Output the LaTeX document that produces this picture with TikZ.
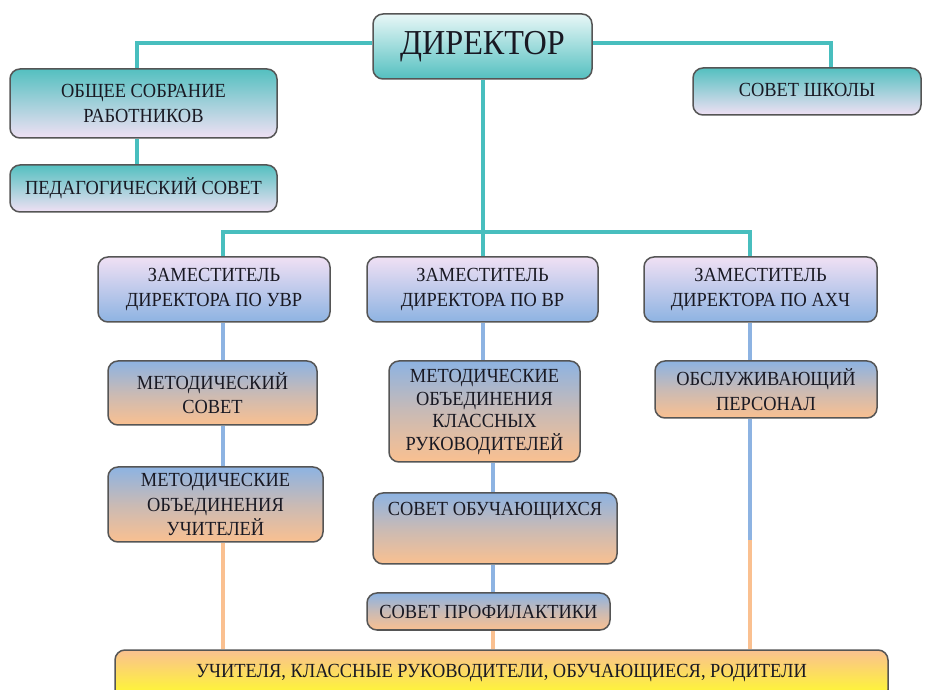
\documentclass[tikz,border=0pt]{standalone}
\usepackage{fontspec}
\setmainfont{Liberation Serif}[FakeStretch=0.92]
\definecolor{tealline}{RGB}{72,190,190}
\definecolor{tealtop}{RGB}{84,192,192}
\definecolor{dirtop}{RGB}{232,247,247}
\definecolor{lavender}{RGB}{240,224,244}
\definecolor{blueish}{RGB}{141,179,226}
\definecolor{orangeish}{RGB}{250,192,144}
\definecolor{yellowish}{RGB}{255,255,40}
\definecolor{boxgray}{RGB}{85,85,85}
\definecolor{textdark}{RGB}{25,25,35}

\tikzset{
  box/.style={draw=boxgray, line width=0.75pt, rounded corners=5pt, align=center,
    inner sep=0pt, text=textdark, font=\fontsize{10}{12.3}\selectfont},
  dirbox/.style={box, top color=dirtop, bottom color=tealtop, font=\fontsize{17.5}{19}\selectfont},
  councilbox/.style={box, top color=tealtop, bottom color=lavender},
  deputybox/.style={box, top color=lavender, bottom color=blueish},
  unitbox/.style={box, top color=blueish, bottom color=orangeish, middle color=blueish!45!orangeish},
  basebox/.style={box, top color=orangeish, bottom color=yellowish},
  tealconn/.style={draw=tealline, line width=2pt},
  blueconn/.style={draw=blueish, line width=2pt},
  orangeconn/.style={draw=orangeish, line width=2pt}
}

\begin{document}
\begin{tikzpicture}[x=0.5pt,y=-0.5pt]
\def\pxl{0.5pt}
\clip (0,0) rectangle (950,690);
\fill[white] (0,0) rectangle (950,690);

\coordinate (cL) at (137,43);
\coordinate (cR) at (831,43);
\coordinate (c1) at (223,232);
\coordinate (c2) at (483,232);
\coordinate (c2b) at (493,232);
\coordinate (c3) at (750,232);
\coordinate (mid3) at (750,540);

\node[dirbox, minimum width=219*\pxl, minimum height=65*\pxl] (dir) at (482.5,46.5) {ДИРЕКТОР};
\node[councilbox, minimum width=267*\pxl, minimum height=69*\pxl] (sobr) at (143.5,103.5) {ОБЩЕЕ СОБРАНИЕ\\РАБОТНИКОВ};
\node[councilbox, minimum width=267*\pxl, minimum height=47*\pxl] (ped) at (143.5,188.5) {ПЕДАГОГИЧЕСКИЙ СОВЕТ};
\node[councilbox, minimum width=228*\pxl, minimum height=47*\pxl] (shk) at (807,91.5) {\raisebox{1.5pt}{СОВЕТ ШКОЛЫ}};

\node[deputybox, minimum width=232*\pxl, minimum height=65*\pxl] (uvr) at (214,289.5) {ЗАМЕСТИТЕЛЬ\\ДИРЕКТОРА ПО УВР};
\node[deputybox, minimum width=231*\pxl, minimum height=65*\pxl] (vr) at (482.5,289.5) {ЗАМЕСТИТЕЛЬ\\ДИРЕКТОРА ПО ВР};
\node[deputybox, minimum width=233*\pxl, minimum height=65*\pxl] (ahch) at (760.5,289.5) {ЗАМЕСТИТЕЛЬ\\ДИРЕКТОРА ПО АХЧ};

\node[unitbox, minimum width=209*\pxl, minimum height=64*\pxl] (msov) at (212.5,393) {МЕТОДИЧЕСКИЙ\\СОВЕТ};
\node[unitbox, minimum width=215*\pxl, minimum height=75*\pxl] (mou) at (215.5,504.5) {МЕТОДИЧЕСКИЕ\\ОБЪЕДИНЕНИЯ\\УЧИТЕЛЕЙ};
\node[unitbox, minimum width=191*\pxl, minimum height=101*\pxl, font=\fontsize{10}{11.2}\selectfont] (mokr) at (484.5,411.5) {\\[-4pt]МЕТОДИЧЕСКИЕ\\ОБЪЕДИНЕНИЯ\\КЛАССНЫХ\\РУКОВОДИТЕЛЕЙ};
\node[unitbox, minimum width=244*\pxl, minimum height=71*\pxl] (sobuch) at (495,528.5) {СОВЕТ ОБУЧАЮЩИХСЯ\\[4pt]\strut};
\node[unitbox, minimum width=243*\pxl, minimum height=37*\pxl] (sprof) at (488.5,611.5) {СОВЕТ ПРОФИЛАКТИКИ};
\node[unitbox, minimum width=222*\pxl, minimum height=57*\pxl] (obsl) at (766,389.5) {ОБСЛУЖИВАЮЩИЙ\\ПЕРСОНАЛ};

\node[basebox, minimum width=773*\pxl, minimum height=50*\pxl] (base) at (501.5,675) {\raisebox{4pt}{УЧИТЕЛЯ, КЛАССНЫЕ РУКОВОДИТЕЛИ, ОБУЧАЮЩИЕСЯ, РОДИТЕЛИ}};

\begin{scope}[on background layer/.try]
\draw[tealconn] (cL -| dir.west) -| (sobr.north -| cL);
\draw[tealconn] (cR -| dir.east) -| (shk.north -| cR);
\draw[tealconn] (sobr.south -| cL) -- (ped.north -| cL);
\draw[tealconn] (dir.south -| c2) -- (vr.north -| c2);
\draw[tealconn] (uvr.north -| c1) |- (c2) -| (ahch.north -| c3);

\draw[blueconn] (uvr.south -| c1) -- (msov.north -| c1);
\draw[blueconn] (msov.south -| c1) -- (mou.north -| c1);
\draw[blueconn] (vr.south -| c2) -- (mokr.north -| c2);
\draw[blueconn] (mokr.south -| c2b) -- (sobuch.north -| c2b);
\draw[blueconn] (sobuch.south -| c2b) -- (sprof.north -| c2b);
\draw[blueconn] (ahch.south -| c3) -- (obsl.north -| c3);
\draw[blueconn] (obsl.south -| c3) -- (mid3);

\draw[orangeconn] (mid3) -- (base.north -| c3);
\draw[orangeconn] (mou.south -| c1) -- (base.north -| c1);
\draw[orangeconn] (sprof.south -| c2b) -- (base.north -| c2b);
\end{scope}
\end{tikzpicture}
\end{document}
